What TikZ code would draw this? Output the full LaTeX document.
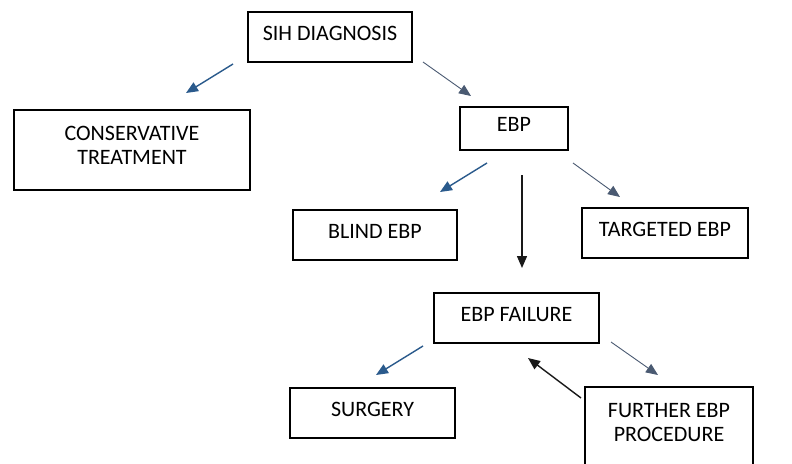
\documentclass[tikz,border=0pt]{standalone}
\usepackage{fontspec}
\setmainfont{Carlito}
\usetikzlibrary{arrows.meta}
\definecolor{arblue}{HTML}{2A5A8C}
\definecolor{argray}{HTML}{4A5A72}
\tikzset{
  box/.style={draw=black, line width=1.2pt, rectangle, align=center, inner sep=0pt, font=\fontsize{22}{24}\selectfont},
  oneline/.style={text height=14pt, text depth=8pt},
  bluearrow/.style={draw=arblue, line width=1.4pt, -{Triangle[length=12pt,width=10pt]}, arblue},
  grayarrow/.style={draw=argray, line width=0.9pt, -{Triangle[length=12pt,width=10pt]}, argray},
  blackarrow/.style={draw=black!90, line width=1.4pt, -{Triangle[length=12pt,width=10pt]}}
}
\begin{document}
\begin{tikzpicture}[x=1pt,y=-1pt]
\path[use as bounding box, fill=white] (0,0) rectangle (792,463);
% boxes
\node[box, oneline, minimum width=164pt, minimum height=50pt] (sih) at (330,37) {SIH DIAGNOSIS};
\node[box, text depth=10pt, minimum width=236pt, minimum height=80pt] (cons) at (132,150) {CONSERVATIVE\\TREATMENT};
\node[box, oneline, minimum width=108pt, minimum height=43pt] (ebp) at (514,128.5) {EBP};
\node[box, oneline, minimum width=164pt, minimum height=50pt] (blind) at (375,235) {BLIND EBP};
\node[box, oneline, minimum width=166pt, minimum height=50pt] (targ) at (665,233) {TARGETED EBP};
\node[box, oneline, minimum width=165pt, minimum height=50pt] (fail) at (516.5,318) {EBP FAILURE};
\node[box, oneline, minimum width=165pt, minimum height=50pt] (surg) at (372.5,413) {SURGERY};
\node[box, text depth=20pt, minimum width=168pt, minimum height=90pt] (furth) at (669,432) {FURTHER EBP\\PROCEDURE};
% arrow end points
\coordinate (a1s) at (233,64);  \coordinate (a1e) at (186,93);
\coordinate (a2s) at (423,62);  \coordinate (a2e) at (471,96);
\coordinate (a3s) at (487,163); \coordinate (a3e) at (440,192);
\coordinate (a4s) at (573,163); \coordinate (a4e) at (620,197);
\coordinate (a5s) at (522,175); \coordinate (a5e) at (522,268);
\coordinate (a6s) at (423,346); \coordinate (a6e) at (376,375);
\coordinate (a7s) at (611,342); \coordinate (a7e) at (658,375);
\coordinate (a8s) at (581,398); \coordinate (a8e) at (528,358);
% connectors
\draw[bluearrow] (a1s) -- (a1e);
\draw[grayarrow] (a2s) -- (a2e);
\draw[bluearrow] (a3s) -- (a3e);
\draw[grayarrow] (a4s) -- (a4e);
\draw[blackarrow] (a5s) -- (a5e);
\draw[bluearrow] (a6s) -- (a6e);
\draw[grayarrow] (a7s) -- (a7e);
\draw[blackarrow] (a8s) -- (a8e);
\end{tikzpicture}
\end{document}
